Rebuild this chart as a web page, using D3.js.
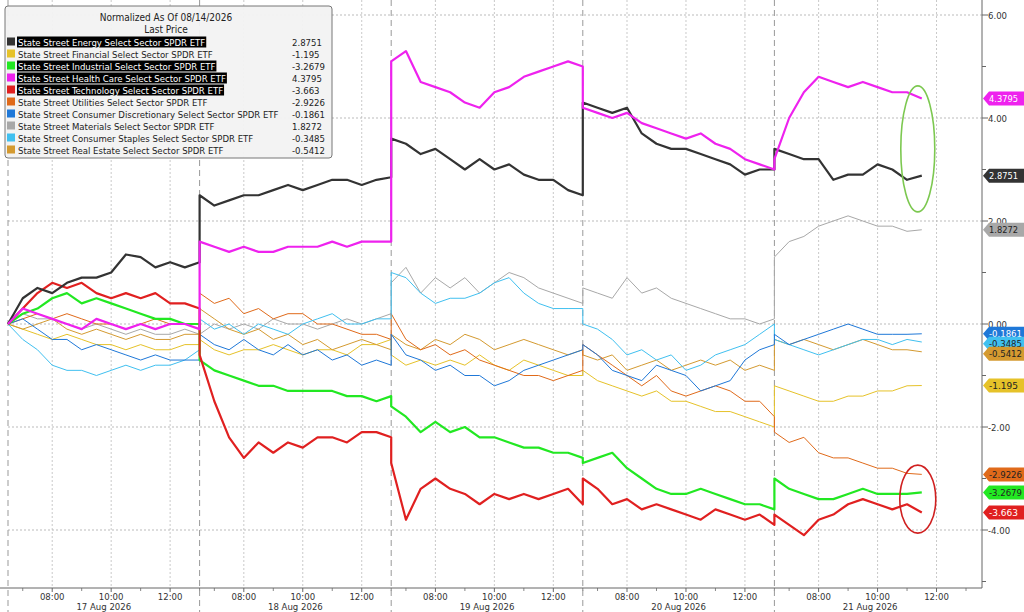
<!DOCTYPE html>
<html><head><meta charset="utf-8">
<script src="https://cdn.jsdelivr.net/npm/d3@7/dist/d3.min.js"></script>
<style>body{margin:0;background:#fff}svg{display:block}text{font-family:"Liberation Sans Narrow","DejaVu Sans Condensed",sans-serif}</style>
</head><body><svg id="c" width="1024" height="612"></svg>
<script>
const names=["State Street Energy Select Sector SPDR ETF","State Street Financial Select Sector SPDR ETF","State Street Industrial Select Sector SPDR ETF","State Street Health Care Select Sector SPDR ETF","State Street Technology Select Sector SPDR ETF","State Street Utilities Select Sector SPDR ETF","State Street Consumer Discretionary Select Sector SPDR ETF","State Street Materials Select Sector SPDR ETF","State Street Consumer Staples Select Sector SPDR ETF","State Street Real Estate Select Sector SPDR ETF"];
const lastVals=["2.8751","-1.195","-3.2679","4.3795","-3.663","-2.9226","-0.1861","1.8272","-0.3485","-0.5412"];
const colors=["#333333","#e6c229","#22e822","#ee22ee","#e02020","#e06a1a","#1f78d8","#a8a8a8","#40c0f0","#d49a30"];
const highlighted=[true,false,true,true,true,false,false,false,false,false];
const days=["17 Aug 2026","18 Aug 2026","19 Aug 2026","20 Aug 2026","21 Aug 2026"];
const hourTicks=[8,10,12];
const yTicks=[6,4,2,0,-2,-4];
// 30-minute samples: days 1-4 from 06:30 to 13:00 (14 pts), day 5 06:30 to 11:30 (11 pts)
const energy=[0,0.5,0.7,0.6,0.8,0.9,0.9,1.0,1.35,1.3,1.1,1.2,1.1,1.2, 2.5,2.3,2.4,2.5,2.5,2.6,2.7,2.6,2.7,2.8,2.8,2.7,2.8,2.85, 3.6,3.5,3.3,3.4,3.2,3.0,3.2,3.0,3.1,2.9,2.8,2.8,2.6,2.5, 4.3,4.2,4.1,4.2,3.7,3.5,3.4,3.4,3.3,3.2,3.1,2.9,3.0,3.0, 3.4,3.3,3.2,3.2,2.8,2.9,2.9,3.1,3.0,2.8,2.88];
const financial=[0,-0.1,-0.2,-0.3,-0.2,-0.3,-0.4,-0.4,-0.5,-0.4,-0.5,-0.5,-0.4,-0.4, -0.3,-0.5,-0.6,-0.5,-0.5,-0.4,-0.5,-0.6,-0.5,-0.5,-0.6,-0.4,-0.4,-0.3, -0.6,-0.8,-0.7,-0.8,-0.7,-0.8,-0.6,-0.8,-0.9,-0.7,-0.8,-0.9,-1.0,-1.0, -0.9,-1.1,-1.2,-1.3,-1.4,-1.3,-1.5,-1.5,-1.6,-1.7,-1.7,-1.8,-1.9,-2.0, -1.2,-1.3,-1.4,-1.5,-1.5,-1.4,-1.4,-1.3,-1.3,-1.2,-1.195];
const industrial=[0,0.2,0.3,0.5,0.6,0.4,0.5,0.4,0.3,0.2,0.1,0.1,0.0,0.0, -0.7,-0.9,-1.0,-1.1,-1.2,-1.2,-1.3,-1.3,-1.3,-1.3,-1.4,-1.4,-1.5,-1.4, -1.6,-1.8,-2.1,-1.9,-2.1,-2.0,-2.2,-2.2,-2.3,-2.4,-2.4,-2.5,-2.5,-2.6, -2.7,-2.6,-2.5,-2.8,-3.0,-3.2,-3.3,-3.3,-3.2,-3.3,-3.4,-3.5,-3.5,-3.6, -3.0,-3.2,-3.3,-3.4,-3.4,-3.3,-3.2,-3.3,-3.3,-3.3,-3.27];
const health=[0,0.3,0.2,0.1,0.0,-0.1,0.1,0.0,-0.1,0.0,-0.1,0.0,0.0,-0.1, 1.6,1.5,1.4,1.5,1.4,1.4,1.5,1.5,1.5,1.6,1.5,1.6,1.6,1.6, 5.1,5.3,4.7,4.6,4.5,4.3,4.2,4.5,4.6,4.8,4.9,5.0,5.1,5.0, 4.2,4.1,4.0,4.1,3.9,3.8,3.7,3.6,3.7,3.5,3.4,3.2,3.1,3.0, 3.2,4.0,4.5,4.8,4.7,4.6,4.7,4.6,4.5,4.5,4.38];
const tech=[0,0.3,0.6,0.8,0.7,0.8,0.6,0.5,0.6,0.5,0.6,0.4,0.4,0.3, -0.6,-1.5,-2.2,-2.6,-2.3,-2.5,-2.3,-2.4,-2.2,-2.2,-2.3,-2.1,-2.1,-2.2, -2.7,-3.8,-3.2,-3.0,-3.2,-3.3,-3.5,-3.3,-3.4,-3.3,-3.4,-3.3,-3.2,-3.5, -3.0,-3.2,-3.5,-3.4,-3.6,-3.5,-3.6,-3.7,-3.8,-3.6,-3.7,-3.8,-3.7,-3.9, -3.7,-3.9,-4.1,-3.8,-3.7,-3.5,-3.4,-3.5,-3.6,-3.5,-3.66];
const utilities=[0,0.1,0.2,0.1,0.2,0.1,0.0,0.0,-0.1,0.0,0.1,0.0,0.0,0.0, 0.6,0.4,0.5,0.2,0.3,0.1,0.2,0.2,0.0,0.0,-0.1,-0.2,-0.2,-0.3, 0.2,-0.3,-0.5,-0.4,-0.6,-0.5,-0.7,-0.8,-0.9,-1.0,-1.0,-1.1,-1.0,-0.9, -0.4,-0.6,-0.8,-1.0,-1.2,-1.0,-1.3,-1.4,-1.3,-1.2,-1.3,-1.5,-1.5,-1.8, -2.1,-2.3,-2.2,-2.5,-2.6,-2.6,-2.7,-2.8,-2.8,-2.9,-2.92];
const discretionary=[0,0.1,-0.1,-0.3,-0.3,-0.5,-0.4,-0.5,-0.6,-0.7,-0.6,-0.7,-0.7,-0.7, -0.2,-0.4,-0.5,-0.3,-0.5,-0.6,-0.4,-0.6,-0.5,-0.7,-0.6,-0.8,-0.7,-0.8, -0.2,-0.6,-0.7,-0.9,-0.8,-1.0,-1.0,-1.2,-1.1,-0.9,-0.8,-0.7,-0.6,-0.5, -0.4,-0.6,-0.9,-1.0,-1.1,-0.8,-0.9,-1.0,-1.3,-1.2,-1.1,-0.7,-0.5,-0.4, -0.2,-0.4,-0.3,-0.2,-0.1,0.0,-0.1,-0.2,-0.2,-0.2,-0.19];
const materials=[0,0.2,0.1,0.1,0.0,-0.1,0.0,-0.1,-0.2,-0.1,-0.2,-0.2,-0.1,-0.2, -0.2,0.0,-0.1,0.0,-0.1,0.1,0.0,0.0,-0.1,0.0,0.1,0.0,0.1,0.2, 0.8,1.1,0.6,0.9,0.7,0.9,0.6,0.8,1.0,0.9,0.7,0.6,0.5,0.4, 0.7,0.6,0.5,0.9,0.6,0.7,0.5,0.4,0.3,0.2,0.1,0.1,0.0,0.1, 1.3,1.6,1.7,1.9,2.0,2.1,2.0,1.9,1.9,1.8,1.83];
const staples=[0,-0.3,-0.5,-0.8,-0.9,-0.9,-1.0,-0.9,-0.8,-0.9,-0.8,-0.8,-0.7,-0.5, 0.1,-0.1,0.0,-0.2,0.0,-0.1,-0.2,0.0,0.1,0.2,0.0,0.0,0.1,0.1, 1.0,0.9,0.6,0.4,0.5,0.5,0.6,0.8,0.9,0.6,0.4,0.3,0.3,0.3, 0.0,-0.1,-0.3,-0.6,-0.5,-0.7,-0.6,-0.9,-0.8,-0.6,-0.5,-0.4,-0.2,0.0, -0.3,-0.4,-0.5,-0.6,-0.5,-0.4,-0.3,-0.3,-0.4,-0.3,-0.35];
const realEstate=[0,-0.1,0.0,0.1,-0.1,-0.2,-0.1,-0.2,-0.3,-0.2,-0.3,-0.3,-0.2,-0.2, 0.3,0.1,-0.1,-0.2,-0.1,-0.3,-0.2,-0.4,-0.3,-0.5,-0.4,-0.3,-0.4,-0.5, -0.2,-0.4,-0.5,-0.3,-0.4,-0.2,-0.3,-0.5,-0.4,-0.3,-0.4,-0.5,-0.6,-0.5, -0.6,-0.7,-0.6,-0.9,-0.8,-0.7,-0.9,-0.8,-0.7,-0.8,-0.7,-0.9,-0.8,-0.9, -0.3,-0.4,-0.3,-0.4,-0.5,-0.4,-0.3,-0.4,-0.5,-0.5,-0.54];
const series=[energy,financial,industrial,health,tech,utilities,discretionary,materials,staples,realEstate];
const drawOrder=[7,1,9,5,8,6,2,4,0,3];

const svg=d3.select("#c");
const SESSION=6.5;
function tAt(i){const d=Math.min(Math.floor(i/14),4);const k=i-d*14;return d*SESSION+k*0.5;}
const x=d3.scaleLinear().domain([0,5*SESSION]).range([8,966]);
const y=d3.scaleLinear().domain([6,-4]).range([15,530]);
const bottom=588, AX=982;
const g=svg.append("g");
g.selectAll(".hg").data(yTicks).join("line").attr("x1",8).attr("x2",AX).attr("y1",d=>y(d)).attr("y2",d=>y(d)).attr("stroke","#aaa").attr("stroke-dasharray","2,2").attr("stroke-width",0.8);
days.forEach((dd,i)=>{
  g.append("line").attr("x1",x(i*SESSION)).attr("x2",x(i*SESSION)).attr("y1",0).attr("y2",bottom+24).attr("stroke","#999").attr("stroke-dasharray","6,4").attr("stroke-width",1);
  hourTicks.forEach(h=>{const xx=x(i*SESSION+h-6.5);
    g.append("line").attr("x1",xx).attr("x2",xx).attr("y1",0).attr("y2",bottom).attr("stroke","#bbb").attr("stroke-dasharray","2,2").attr("stroke-width",0.8);
    g.append("line").attr("x1",xx).attr("x2",xx).attr("y1",bottom).attr("y2",bottom+4).attr("stroke","#666");
    g.append("text").attr("x",xx).attr("y",bottom+12).attr("text-anchor","middle").attr("font-size",9.5).attr("fill","#333").text(String(h).padStart(2,"0")+":00");
  });
  for(let h=7;h<=13;h+=2){const xx=x(i*SESSION+h-6.5); g.append("line").attr("x1",xx).attr("x2",xx).attr("y1",bottom).attr("y2",bottom+3).attr("stroke","#888");}
  g.append("text").attr("x",x(i*SESSION+SESSION/2)).attr("y",bottom+22).attr("text-anchor","middle").attr("font-size",9.5).attr("fill","#333").text(dd);
});
g.append("line").attr("x1",0).attr("x2",AX).attr("y1",bottom).attr("y2",bottom).attr("stroke","#666");
g.append("line").attr("x1",AX).attr("x2",AX).attr("y1",0).attr("y2",bottom).attr("stroke","#666");
d3.range(-5,7).forEach(v=>{g.append("line").attr("x1",AX).attr("x2",v%2===0?988:986).attr("y1",y(v)).attr("y2",y(v)).attr("stroke","#666");});
yTicks.forEach(v=>g.append("text").attr("x",988).attr("y",y(v)+4).attr("font-size",9.5).attr("fill","#333").text(v.toFixed(2)));
const line=d3.line().x((d,i)=>x(tAt(i))).y(d=>y(d));
drawOrder.forEach(s=>{
  g.append("path").attr("d",line(series[s])).attr("fill","none").attr("stroke",colors[s]).attr("stroke-width",highlighted[s]?2.2:1).attr("stroke-linejoin","round");
});
const tEnd=tAt(series[0].length-1);
g.append("ellipse").attr("cx",x(tEnd)-4).attr("cy",y(3.4)).attr("rx",17).attr("ry",63).attr("fill","none").attr("stroke","#7cc850").attr("stroke-width",1.6);
g.append("ellipse").attr("cx",x(tEnd)-4).attr("cy",y(-3.4)).attr("rx",18).attr("ry",34).attr("fill","none").attr("stroke","#d02020").attr("stroke-width",1.6);
let tags=series.map((s,i)=>({i,y:y(s[s.length-1])})).sort((a,b)=>a.y-b.y);
for(let k=1;k<tags.length;k++){if(tags[k].y-tags[k-1].y<10)tags[k].y=tags[k-1].y+10;}
const darkText=["#333333","#e02020","#1f78d8","#ee22ee"];
tags.forEach(t=>{
  const c=colors[t.i];const yy=t.y;
  g.append("path").attr("d",`M983,${yy} L989,${yy-7} L1024,${yy-7} L1024,${yy+7} L989,${yy+7} Z`).attr("fill",c);
  g.append("text").attr("x",989).attr("y",yy+3.5).attr("font-size",9).attr("textLength",lastVals[t.i].length>6?33:29).attr("lengthAdjust","spacingAndGlyphs").attr("fill",darkText.includes(c)?"#fff":"#222").text(lastVals[t.i]);
});
const L=g.append("g");
L.append("rect").attr("x",5).attr("y",6).attr("width",327).attr("height",152).attr("rx",3).attr("fill","#f2f2f2").attr("fill-opacity",0.95).attr("stroke","#777");
L.append("text").attr("x",166).attr("y",21).attr("text-anchor","middle").attr("font-size",10).attr("fill","#222").text("Normalized As Of 08/14/2026");
L.append("text").attr("x",166).attr("y",33).attr("text-anchor","middle").attr("font-size",10).attr("fill","#222").text("Last Price");
names.forEach((n,i)=>{
  const yy=42+i*12;
  L.append("rect").attr("x",7).attr("y",yy-4.5).attr("width",8).attr("height",8).attr("fill",colors[i]);
  const t=L.append("text").attr("x",18).attr("y",yy+3.5).attr("font-size",9.5).attr("fill",highlighted[i]?"#fff":"#222").text(n);
  if(highlighted[i]){const w=t.node().getComputedTextLength();L.insert("rect","text:last-child").attr("x",17).attr("y",yy-5.5).attr("width",w+2).attr("height",11).attr("fill","#000");}
  L.append("text").attr("x",292).attr("y",yy+3.5).attr("font-size",9.5).attr("fill","#222").text(lastVals[i]);
});
</script></body></html>
